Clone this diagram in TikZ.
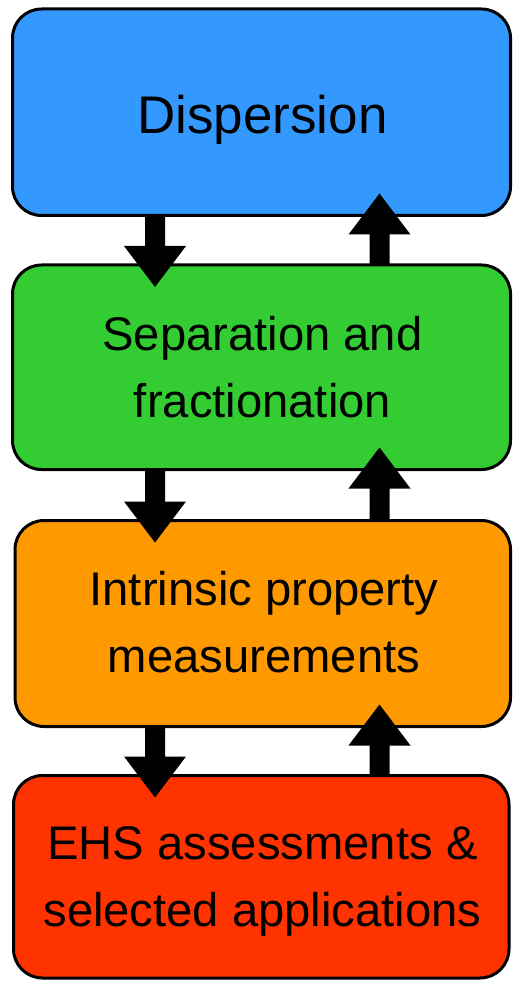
\documentclass[tikz,border=0pt]{standalone}
\usepackage{fontspec}
\setmainfont{Liberation Sans}
\usetikzlibrary{calc}
\definecolor{cblue}{RGB}{51,153,255}
\definecolor{cgreen}{RGB}{51,204,51}
\definecolor{corange}{RGB}{255,153,0}
\definecolor{cred}{RGB}{255,51,0}
\newcommand\arrdown[2]{\fill[blockarrow] let \p1=(#1),\p2=(#2) in
  (\x1-10pt,\y1) -- (\x1-10pt,\y2+41pt) -- (\x1-31pt,\y2+41pt) -- (\x2,\y2) --
  (\x1+31pt,\y2+41pt) -- (\x1+10pt,\y2+41pt) -- (\x1+10pt,\y1) -- cycle;}
\newcommand\arrup[2]{\fill[blockarrow] let \p1=(#1),\p2=(#2) in
  (\x1-10pt,\y1) -- (\x1-10pt,\y2-41pt) -- (\x1-31pt,\y2-41pt) -- (\x2,\y2) --
  (\x1+31pt,\y2-41pt) -- (\x1+10pt,\y2-41pt) -- (\x1+10pt,\y1) -- cycle;}
\begin{document}
\begin{tikzpicture}[x=1pt,y=-1pt,
  boxframe/.style={draw=black,line width=3pt,rounded corners=29pt,inner sep=0pt,outer sep=0pt},
  lbl/.style={inner sep=0pt,outer sep=0pt,align=center,text=black,font=\fontsize{47.2}{66.5}\selectfont},
  bigl/.style={inner sep=0pt,outer sep=0pt,text=black,font=\fontsize{53}{60}\selectfont},
  blockarrow/.style={fill=black}]
\useasboundingbox (0,0) rectangle (514,981);
\node[boxframe,fill=cblue,minimum width=498pt,minimum height=206.5pt] (b1) at (261.5,112.25) {};
\node[boxframe,fill=cgreen,minimum width=498pt,minimum height=204.5pt] (b2) at (261.5,367.25) {};
\node[boxframe,fill=corange,minimum width=495.5pt,minimum height=206pt] (b3) at (262.75,623.5) {};
\node[boxframe,fill=cred,minimum width=495.5pt,minimum height=202.5pt] (b4) at (261.25,876.75) {};
\node[bigl] (t1) at (262.5,119.5) {Dispersion};
\node[lbl] (t2) at (262.5,367) {Separation and\\fractionation};
\node[lbl] (t3) at (264,622) {Intrinsic property\\measurements};
\node[lbl] (t4) at (262.5,881.5) {EHS assessments \&\\selected applications};
\coordinate (xl) at (155,0);
\coordinate (xr) at (379.5,0);
\arrdown{b1.south -| xl}{$(b2.north -| xl)+(0,22)$}
\arrup{b2.north -| xr}{$(b1.south -| xr)+(0,-22)$}
\arrdown{b2.south -| xl}{$(b3.north -| xl)+(0,22)$}
\arrup{b3.north -| xr}{$(b2.south -| xr)+(0,-22)$}
\arrdown{b3.south -| xl}{$(b4.north -| xl)+(0,22)$}
\arrup{b4.north -| xr}{$(b3.south -| xr)+(0,-22)$}
\end{tikzpicture}
\end{document}
